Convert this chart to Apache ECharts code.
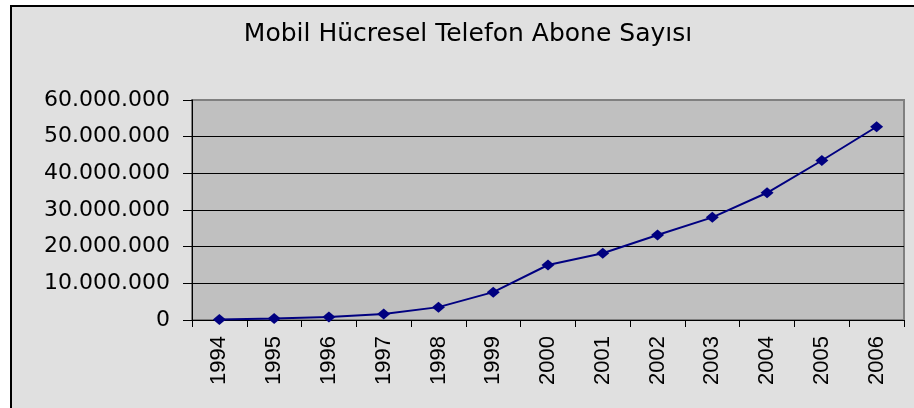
<!DOCTYPE html>
<html>
<head>
<meta charset="utf-8">
<script src="https://cdn.jsdelivr.net/npm/echarts@6/dist/echarts.min.js"></script>
<style>
  html, body { margin: 0; padding: 0; background: #ffffff; overflow: hidden; }
  #wrap { position: relative; width: 914px; height: 408px; overflow: hidden; }
  #frame {
    position: absolute; left: 10px; top: 5px; width: 1000px; height: 500px;
    background: #e0e0e0; border-left: 2px solid #000; border-top: 2px solid #000;
  }
  #chart { position: absolute; left: 0; top: 0; width: 914px; height: 408px; }
</style>
</head>
<body>
<div id="wrap">
  <div id="frame"></div>
  <div id="chart"></div>
</div>
<script>
// Yıllar ve abone sayıları
const years = ['1994', '1995', '1996', '1997', '1998', '1999', '2000',
               '2001', '2002', '2003', '2004', '2005', '2006'];
const subscribers = [170000, 440000, 810000, 1610000, 3510000, 7600000, 15000000,
                     18200000, 23200000, 28000000, 34700000, 43500000, 52700000];
const yTicks = [0, 10000000, 20000000, 30000000, 40000000, 50000000, 60000000];
const titleText = 'Mobil Hücresel Telefon Abone Sayısı';

// 60000000 -> "60.000.000"
function dotted(v) {
  return String(Math.round(v)).replace(/\B(?=(\d{3})+(?!\d))/g, '.');
}

const chart = echarts.init(document.getElementById('chart'), null, { renderer: 'canvas' });

chart.setOption({
  backgroundColor: 'transparent',
  animation: false,
  title: {
    text: titleText,
    left: 468,
    top: 22,
    padding: 0,
    textAlign: 'center',
    textStyle: {
      fontFamily: 'DejaVu Sans',
      fontSize: 25,
      fontWeight: 'normal',
      color: '#000000'
    }
  },
  grid: {
    left: 192,
    top: 100,
    right: 10,
    bottom: 88,
    show: true,
    backgroundColor: '#c0c0c0',
    borderColor: '#808080',
    borderWidth: 2
  },
  xAxis: {
    type: 'category',
    data: years,
    boundaryGap: true,
    axisLine: { show: true, lineStyle: { color: '#000000', width: 1 } },
    axisTick: { show: true, length: 7, interval: 0, lineStyle: { color: '#000000' } },
    axisLabel: {
      interval: 0,
      rotate: 90,
      margin: 16,
      fontFamily: 'Liberation Sans',
      fontSize: 22,
      color: '#000000'
    },
    splitLine: { show: false }
  },
  yAxis: {
    type: 'value',
    min: yTicks[0],
    max: yTicks[yTicks.length - 1],
    interval: yTicks[1] - yTicks[0],
    axisLine: { show: true, lineStyle: { color: '#000000', width: 1 } },
    axisTick: { show: true, length: 9, lineStyle: { color: '#000000' } },
    axisLabel: {
      margin: 22,
      padding: [5, 0, 0, 0],
      fontFamily: 'DejaVu Sans',
      fontSize: 22,
      color: '#000000',
      formatter: dotted
    },
    splitLine: {
      show: true,
      showMaxLine: false,
      lineStyle: { color: '#000000', width: 1 }
    }
  },
  series: [{
    type: 'line',
    data: subscribers,
    symbol: 'diamond',
    symbolSize: [13, 11],
    showAllSymbol: true,
    lineStyle: { color: '#000080', width: 2 },
    itemStyle: { color: '#000080', borderWidth: 0 }
  }]
});
</script>
</body>
</html>
